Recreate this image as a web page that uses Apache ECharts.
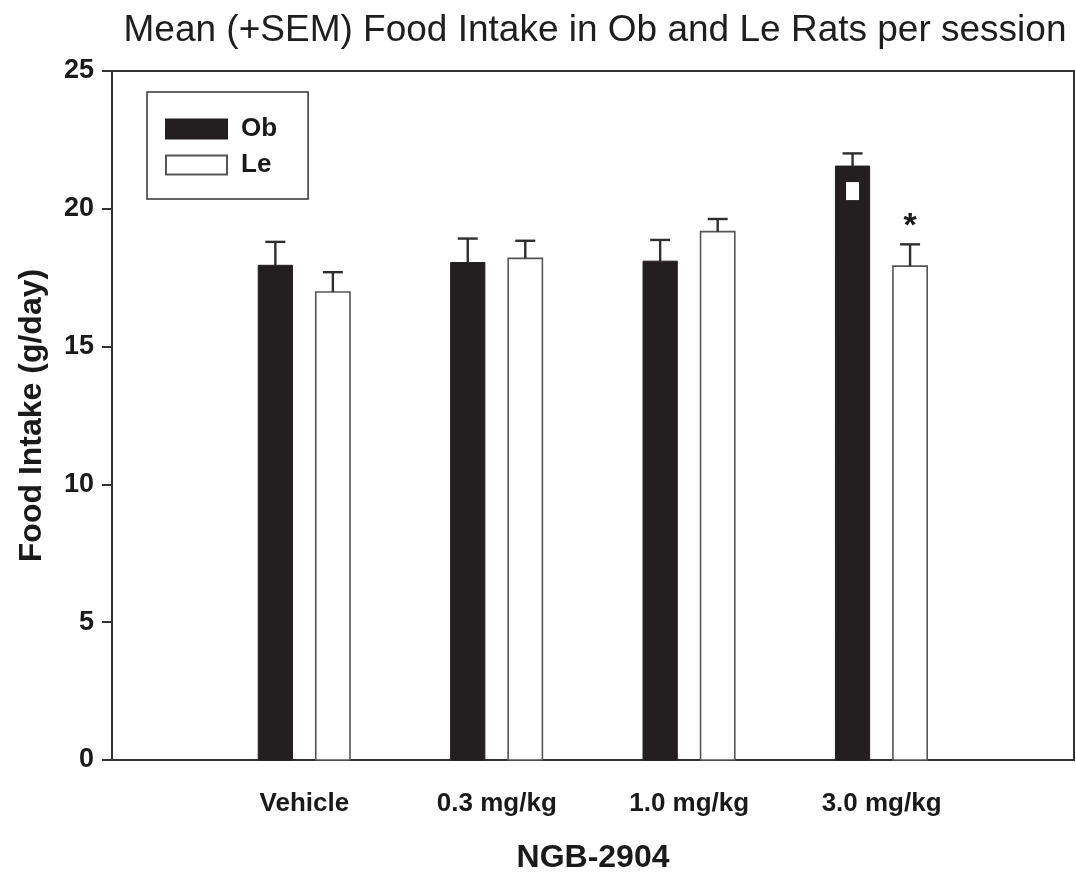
<!DOCTYPE html>
<html>
<head>
<meta charset="utf-8">
<script src="https://cdn.jsdelivr.net/npm/echarts@6/dist/echarts.min.js"></script>
<style>
  html, body { margin: 0; padding: 0; background: #fff; }
  #chart { width: 1076px; height: 874px; }
</style>
</head>
<body>
<div id="chart"></div>
<script>
// Dose groups on the x axis
const categories = ['Vehicle', '0.3 mg/kg', '1.0 mg/kg', '3.0 mg/kg'];

// Mean food intake (g/day) and SEM per group
const obMean = [17.95, 18.05, 18.1, 21.55];
const obSem  = [0.85, 0.87, 0.77, 0.46];
const leMean = [16.98, 18.2, 19.17, 17.92];
const leSem  = [0.72, 0.64, 0.46, 0.79];

// Significance markers drawn on / above bars
const obMark = ['', '', '', 'square'];
const leMark = ['', '', '', '*'];

// Y axis ticks
const yTicks = [0, 5, 10, 15, 20, 25];

const FONT = '"Liberation Sans", Arial, Helvetica, sans-serif';

function makeData(means, sems, marks) {
  return means.map((m, i) => [i + 1, m, sems[i], marks[i]]);
}

// Bar + upper error bar, placed at an offset inside each category band
function barRenderer(offsetFrac, fill, stroke, strokeW, marks) {
  return function (params, api) {
    const xv = api.value(0);
    const m = api.value(1);
    const s = api.value(2);
    const mark = marks[params.dataIndex];
    const band = api.size([1, 0])[0];
    const base = api.coord([xv, 0]);
    const top = api.coord([xv, m]);
    const cap = api.coord([xv, m + s]);
    const cx = base[0] + offsetFrac * band;
    const w = band * 0.178;
    const capHalf = 10;
    const children = [
      {
        type: 'rect',
        shape: { x: cx - w / 2, y: top[1], width: w, height: base[1] - top[1] },
        style: { fill: fill, stroke: stroke, lineWidth: strokeW }
      },
      {
        type: 'line',
        shape: { x1: cx, y1: top[1], x2: cx, y2: cap[1] },
        style: { stroke: '#2e2e2e', lineWidth: 2.4 }
      },
      {
        type: 'line',
        shape: { x1: cx - capHalf, y1: cap[1], x2: cx + capHalf, y2: cap[1] },
        style: { stroke: '#2e2e2e', lineWidth: 2.4 }
      }
    ];
    if (mark === 'square') {
      children.push({
        type: 'rect',
        shape: { x: cx - 6.5, y: top[1] + 16, width: 13, height: 18 },
        style: { fill: '#fff' }
      });
    } else if (mark === '*') {
      children.push({
        type: 'text',
        style: {
          text: '*', x: cx, y: cap[1] - 18,
          align: 'center', verticalAlign: 'middle',
          font: 'bold 34px ' + FONT, fill: '#1a1a1a'
        }
      });
    }
    return { type: 'group', children: children };
  };
}

const chart = echarts.init(document.getElementById('chart'), null, { renderer: 'canvas' });

chart.setOption({
  animation: false,
  backgroundColor: '#fff',
  title: {
    text: 'Mean (+SEM) Food Intake in Ob and Le Rats per session',
    left: 590, top: 7, textAlign: 'center',
    textStyle: { fontFamily: FONT, fontWeight: 'normal', fontSize: 37, color: '#1e1e1e' }
  },
  legend: {
    orient: 'vertical',
    left: 147, top: 92,
    padding: [24, 31, 21, 18],
    itemWidth: 61, itemHeight: 19, itemGap: 10,
    borderColor: '#333', borderWidth: 1.5,
    icon: 'rect',
    textStyle: { fontFamily: FONT, fontWeight: 'bold', fontSize: 26, color: '#1a1a1a', lineHeight: 25, padding: [0, 0, 0, 9] },
    data: ['Ob', 'Le']
  },
  grid: {
    left: 112, right: 2, top: 71, bottom: 114,
    outerBoundsMode: 'none',
    show: true, borderColor: '#333', borderWidth: 2, backgroundColor: 'transparent'
  },
  xAxis: {
    type: 'value', min: 0, max: 5, interval: 1,
    name: 'NGB-2904', nameLocation: 'middle', nameGap: 82,
    nameTextStyle: { fontFamily: FONT, fontWeight: 'bold', fontSize: 32, color: '#1a1a1a' },
    axisLine: { show: true, lineStyle: { color: '#333', width: 2 } },
    axisTick: { show: false },
    splitLine: { show: false },
    axisLabel: {
      margin: 31,
      fontFamily: FONT, fontWeight: 'bold', fontSize: 26, color: '#1a1a1a',
      formatter: v => categories[v - 1] || ''
    }
  },
  yAxis: {
    type: 'value', min: yTicks[0], max: yTicks[yTicks.length - 1], interval: 5,
    name: 'Food Intake (g/day)', nameLocation: 'middle', nameGap: 64, nameRotate: 90,
    nameTextStyle: { fontFamily: FONT, fontWeight: 'bold', fontSize: 32, color: '#1a1a1a' },
    axisLine: { show: true, lineStyle: { color: '#333', width: 2 } },
    axisTick: { show: true, inside: false, length: 10, lineStyle: { color: '#333', width: 2 } },
    splitLine: { show: false },
    axisLabel: { margin: 18, fontFamily: FONT, fontWeight: 'bold', fontSize: 27, color: '#1a1a1a' }
  },
  series: [
    {
      name: 'Ob', type: 'custom',
      itemStyle: { color: '#231f20', borderColor: '#231f20', borderWidth: 1 },
      renderItem: barRenderer(-0.151, '#231f20', '#231f20', 1, obMark),
      encode: { x: 0, y: 1 },
      data: makeData(obMean, obSem, obMark)
    },
    {
      name: 'Le', type: 'custom',
      itemStyle: { color: '#ffffff', borderColor: '#555', borderWidth: 1.5 },
      renderItem: barRenderer(0.148, '#ffffff', '#555', 1.6, leMark),
      encode: { x: 0, y: 1 },
      data: makeData(leMean, leSem, leMark)
    }
  ]
});
</script>
</body>
</html>
